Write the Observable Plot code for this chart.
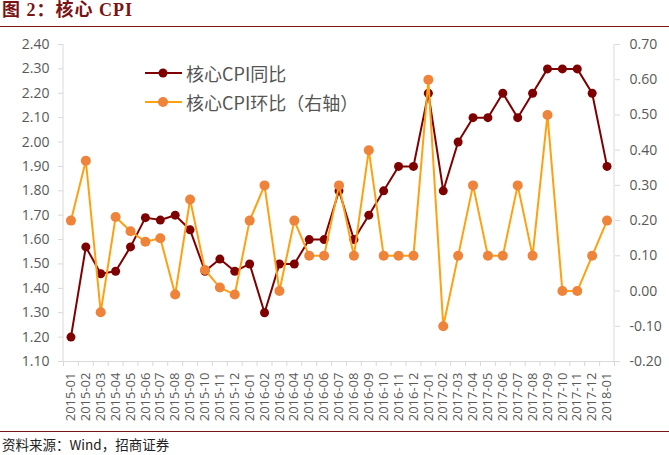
<!DOCTYPE html>
<html><head><meta charset="utf-8">
<script src="https://cdn.jsdelivr.net/npm/d3@7"></script>
<script src="https://cdn.jsdelivr.net/npm/@observablehq/plot@0.6"></script>
<style>
body{margin:0;background:#fff;}
#wrap{position:relative;width:669px;height:455px;overflow:hidden;font-family:"Open Sans","Noto Sans CJK SC",sans-serif;}
#title{position:absolute;left:0;top:0;width:669px;height:26px;border-bottom:1px solid #7a1414;}
#title span{position:absolute;left:2px;top:0px;line-height:20px;font-family:"Liberation Serif","Noto Sans CJK SC",serif;font-weight:bold;font-size:18px;letter-spacing:1px;color:#7a1414;white-space:nowrap;}
#chart{position:absolute;left:0;top:28px;}
#foot{position:absolute;left:0;top:431px;width:669px;height:24px;border-top:1px solid #7a1414;}
#foot span{position:absolute;left:2px;top:2px;font-size:13.5px;color:#222;font-family:"Noto Sans CJK SC","Open Sans",sans-serif;white-space:nowrap;}
#legend{position:absolute;left:145px;top:58px;font-size:18px;color:#555;font-family:"Noto Sans CJK SC",sans-serif;}
#legend div{height:29px;display:flex;align-items:center;white-space:nowrap;}
#legend svg{margin-right:3px;}
</style></head>
<body>
<div id="wrap">
  <div id="title"><span>图 2：核心 CPI</span></div>
  <div id="chart"></div>
  <div id="legend"></div>
  <div id="foot"><span>资料来源：Wind，招商证券</span></div>
</div>
<script>
const months = ["2015-01","2015-02","2015-03","2015-04","2015-05","2015-06","2015-07","2015-08","2015-09","2015-10","2015-11","2015-12",
"2016-01","2016-02","2016-03","2016-04","2016-05","2016-06","2016-07","2016-08","2016-09","2016-10","2016-11","2016-12",
"2017-01","2017-02","2017-03","2017-04","2017-05","2017-06","2017-07","2017-08","2017-09","2017-10","2017-11","2017-12","2018-01"];
const yoy = [1.20,1.57,1.46,1.47,1.57,1.69,1.68,1.70,1.64,1.47,1.52,1.47,
1.50,1.30,1.50,1.50,1.60,1.60,1.80,1.60,1.70,1.80,1.90,1.90,
2.20,1.80,2.00,2.10,2.10,2.20,2.10,2.20,2.30,2.30,2.30,2.20,1.90];
const mom = [0.20,0.37,-0.06,0.21,0.17,0.14,0.15,-0.01,0.26,0.06,0.01,-0.01,
0.20,0.30,0.00,0.20,0.10,0.10,0.30,0.10,0.40,0.10,0.10,0.10,
0.60,-0.10,0.10,0.30,0.10,0.10,0.30,0.10,0.50,0.00,0.00,0.10,0.20];
const leftTicks = [1.10,1.20,1.30,1.40,1.50,1.60,1.70,1.80,1.90,2.00,2.10,2.20,2.30,2.40];
const rightTicks = [-0.20,-0.10,0.00,0.10,0.20,0.30,0.40,0.50,0.60,0.70];
const seriesNames = ["核心CPI同比","核心CPI环比（右轴）"];
const colors = {yoy:"#7f0000", momLine:"#ffa010", momDot:"#ee8339"};

const L0 = 1.1, L1 = 2.4, R0 = -0.2, R1 = 0.7;
const toL = v => L0 + (v - R0) * (L1 - L0) / (R1 - R0);
const toR = y => Math.round((R0 + (y - L0) * (R1 - R0) / (L1 - L0)) * 100) / 100;

const data = months.map((m, i) => ({m, yoy: yoy[i], mom: toL(mom[i])}));
const W = 669, H = 403, mL = 63, mR = 55;
const step = (W - mL - mR) / months.length;
const axisColor = "#d9d9d9";

const chart = Plot.plot({
  width: W, height: H,
  marginTop: 16, marginBottom: 70, marginLeft: mL, marginRight: mR,
  x: {type: "point", domain: months, padding: 0.5},
  y: {domain: [L0, L1]},
  style: {fontFamily: "'Open Sans',sans-serif", fontSize: "14px", color: "#595959", background: "transparent"},
  marks: [
    Plot.ruleY([L0], {stroke: axisColor}),
    Plot.axisY(leftTicks, {anchor: "left", tickSize: 5, tickPadding: 9, tickFormat: d => d.toFixed(2), stroke: axisColor, fill: "#595959", label: null, style: {letterSpacing: "0.8px"}}),
    Plot.axisY(rightTicks.map(toL), {anchor: "right", tickSize: 5, tickPadding: 10, tickFormat: d => toR(d).toFixed(2), stroke: axisColor, fill: "#595959", label: null, style: {letterSpacing: "0.8px"}}),
    Plot.axisX(months, {anchor: "bottom", tickSize: 5, tickFormat: () => "", dx: -step / 2, stroke: axisColor, label: null}),
    Plot.axisX([months[months.length - 1]], {anchor: "bottom", tickSize: 5, tickFormat: () => "", dx: step / 2, stroke: axisColor, label: null}),
    Plot.axisX(months, {anchor: "bottom", tickSize: 0, tickPadding: 11, tickRotate: -90, fontSize: 13, fill: "#595959", label: null, style: {letterSpacing: "0.5px"}}),
    Plot.line(data, {x: "m", y: "yoy", stroke: colors.yoy, strokeWidth: 2}),
    Plot.dot(data, {x: "m", y: "yoy", r: 4.5, fill: colors.yoy}),
    Plot.line(data, {x: "m", y: "mom", stroke: colors.momLine, strokeWidth: 2}),
    Plot.dot(data, {x: "m", y: "mom", r: 5, fill: colors.momDot})
  ]
});
document.getElementById("chart").appendChild(chart);

// vertical axis lines at the plot's x-range ends
const xr = chart.scale("x").range, yr = chart.scale("y").range;
const svg = d3.select(chart);
[xr[0], xr[1]].forEach(x => svg.append("line").attr("x1", x).attr("x2", x).attr("y1", yr[0]).attr("y2", yr[1]).attr("stroke", axisColor));

// legend
const lg = document.getElementById("legend");
[[colors.yoy, colors.yoy, 4.5], [colors.momLine, colors.momDot, 5]].forEach(([lc, dc, r], i) => {
  const row = document.createElement("div");
  row.innerHTML = `<svg width="38" height="14"><line x1="0" x2="37" y1="7" y2="7" stroke="${lc}" stroke-width="2"/><circle cx="18" cy="7" r="${r}" fill="${dc}"/></svg><span>${seriesNames[i]}</span>`;
  lg.appendChild(row);
});
</script>
</body></html>
